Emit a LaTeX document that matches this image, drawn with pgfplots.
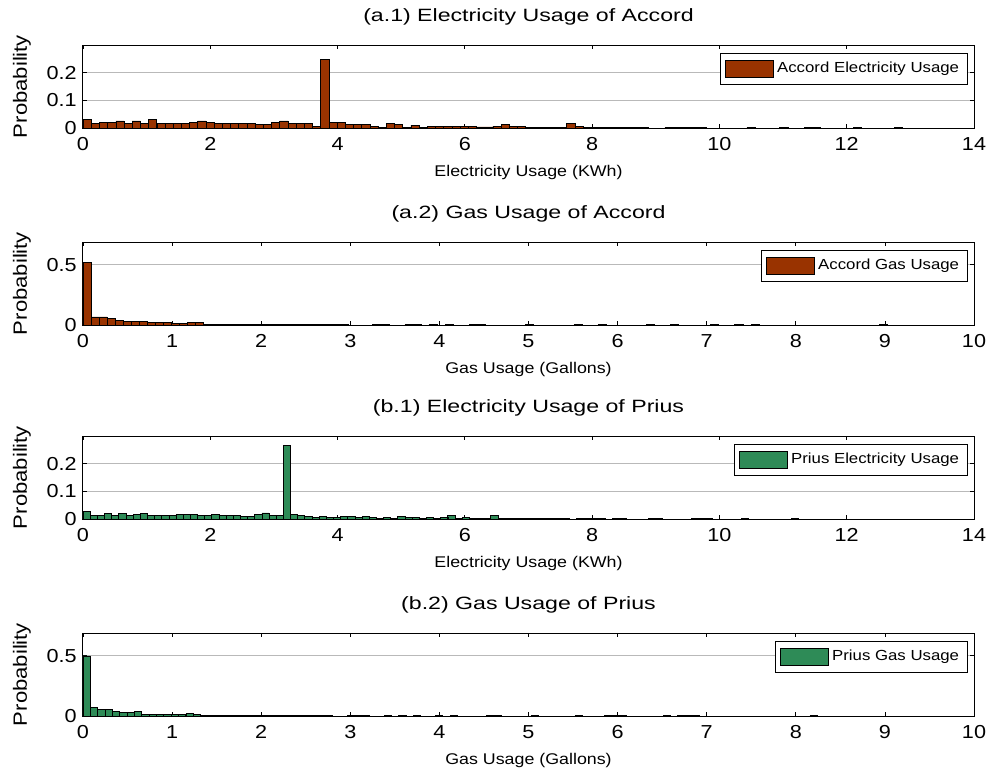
\documentclass[border=0pt]{standalone}
\usepackage{fontspec}
\setmainfont{Liberation Sans}[FakeStretch=1.15]
\newfontfamily\titlefont{Liberation Sans}[FakeStretch=1.3]
\usepackage{pgfplots}
\pgfplotsset{compat=1.18}
\definecolor{accord}{RGB}{153,51,0}
\definecolor{prius}{RGB}{46,139,87}
\pgfplotsset{
  matstyle/.style={
    scale only axis, width=445.5pt, height=41.5pt,
    anchor=north west, ymin=0, xmin=0,
    axis line style={black, line width=0.5pt},
    tick align=inside, major tick length=2pt,
    tick style={black, line width=0.4pt},
    ymajorgrids, major grid style={gray!55, line width=0.5pt},
    /pgf/number format/assume math mode=true,
    ticklabel style={font=\fontsize{9.4}{11}\selectfont},
    xticklabel style={anchor=base, yshift=-11.3pt},
    yticklabel style={anchor=east, inner sep=0pt, xshift=-3pt},
    title style={at={(0.5,1)}, anchor=base, yshift=5.6pt, font=\fontsize{8.9}{10}\selectfont\titlefont},
    xlabel style={at={(0.5,0)}, anchor=base, yshift=-24.3pt, font=\fontsize{7.75}{9}\selectfont},
    ylabel style={at={(axis description cs:-0.0685,0.5)}, anchor=center, font=\fontsize{9.6}{11}\selectfont},
    ylabel={Probability},
    legend style={at={(1,1)}, anchor=north east, xshift=-3.2pt, yshift=-4pt, draw=black, line width=0.5pt,
      font=\fontsize{7.3}{8.5}\selectfont, inner xsep=2pt, inner ysep=2.4pt,
      /tikz/every even column/.append style={column sep=2pt}},
    legend cell align=left,
    legend image code/.code={\draw[#1] (0pt,-4.25pt) rectangle (24pt,4.25pt);},
  },
  elec/.style={xmax=14, xtick={0,2,...,14}, ymax=0.3, ytick={0,0.1,0.2}, yticklabels={0,0.1,0.2}, xlabel={Electricity Usage (KWh)}},
  gas/.style={xmax=10, xtick={0,1,...,10}, ymax=0.69, ytick={0,0.5}, yticklabels={0,0.5}, xlabel={Gas Usage (Gallons)}},
}
\begin{document}
\begin{tikzpicture}
\useasboundingbox (0,0) rectangle (495.5pt,-386pt);
% (a.1)
\begin{axis}[matstyle, elec, at={(41.5pt,-22.5pt)}, title={(a.1) Electricity Usage of Accord}]
\addplot[ybar, bar width=0.1288, fill=accord, draw=black, line width=0.3pt] coordinates {
(0.064,0.031) (0.193,0.017) (0.322,0.021) (0.451,0.021) (0.580,0.026) (0.708,0.017) (0.837,0.026) (0.966,0.017)
(1.095,0.031) (1.224,0.017) (1.353,0.017) (1.481,0.017) (1.610,0.017) (1.739,0.021) (1.868,0.026) (1.996,0.021)
(2.125,0.017) (2.254,0.017) (2.383,0.017) (2.512,0.017) (2.640,0.017) (2.769,0.012) (2.898,0.012) (3.027,0.021)
(3.156,0.026) (3.284,0.017) (3.413,0.017) (3.542,0.017) (3.671,0.007) (3.800,0.249) (3.928,0.021) (4.057,0.021)
(4.186,0.012) (4.315,0.012) (4.444,0.012) (4.572,0.007) (4.701,0.003) (4.830,0.017) (4.959,0.012) (5.088,0.003)
(5.216,0.010) (5.345,0.003) (5.474,0.007) (5.603,0.007) (5.732,0.007) (5.860,0.007) (5.989,0.007) (6.118,0.007)
(6.247,0.004) (6.376,0.004) (6.504,0.007) (6.633,0.013) (6.762,0.007) (6.891,0.007) (7.020,0.002) (7.148,0.002)
(7.277,0.002) (7.406,0.002) (7.535,0.002) (7.664,0.017) (7.792,0.007) (7.921,0.002) (8.050,0.002) (8.179,0.002)
(8.308,0.002) (8.436,0.002) (8.565,0.002) (8.694,0.002) (8.823,0.002) (9.209,0.002) (9.338,0.002) (9.467,0.002)
(9.596,0.002) (9.724,0.002) (10.497,0.002) (11.012,0.002) (11.398,0.002) (11.527,0.002) (12.171,0.002) (12.815,0.002)
};
\addlegendentry{Accord Electricity Usage}
\end{axis}
% (a.2)
\begin{axis}[matstyle, gas, at={(41.5pt,-121pt)}, title={(a.2) Gas Usage of Accord}]
\addplot[ybar, bar width=0.0903, fill=accord, draw=black, line width=0.3pt] coordinates {
(0.045,0.519) (0.135,0.068) (0.226,0.068) (0.316,0.052) (0.406,0.041) (0.497,0.027) (0.587,0.027) (0.677,0.027)
(0.768,0.019) (0.858,0.019) (0.948,0.019) (1.039,0.011) (1.129,0.011) (1.219,0.022) (1.309,0.022) (1.400,0.008)
(1.490,0.007) (1.580,0.006) (1.671,0.006) (1.761,0.006) (1.851,0.006) (1.942,0.005) (2.032,0.005) (2.122,0.005)
(2.213,0.005) (2.303,0.005) (2.393,0.005) (2.483,0.004) (2.574,0.004) (2.664,0.004) (2.754,0.004) (2.845,0.004)
(2.935,0.004) (3.296,0.004) (3.387,0.004) (3.657,0.004) (3.748,0.004) (3.928,0.004) (4.109,0.004) (4.380,0.004)
(4.470,0.004) (5.012,0.004) (5.554,0.004) (5.825,0.004) (6.367,0.004) (6.638,0.004) (7.089,0.004) (7.360,0.004)
(7.541,0.004) (8.985,0.004)
};
\addlegendentry{Accord Gas Usage}
\end{axis}
% (b.1)
\begin{axis}[matstyle, elec, at={(41.5pt,-218pt)}, title={(b.1) Electricity Usage of Prius}]
\addplot[ybar, bar width=0.1124, fill=prius, draw=black, line width=0.3pt] coordinates {
(0.056,0.027) (0.169,0.013) (0.281,0.013) (0.393,0.020) (0.506,0.013) (0.618,0.020) (0.731,0.013) (0.843,0.017)
(0.955,0.020) (1.068,0.013) (1.180,0.013) (1.293,0.013) (1.405,0.013) (1.517,0.016) (1.630,0.016) (1.742,0.016)
(1.855,0.013) (1.967,0.013) (2.079,0.018) (2.192,0.013) (2.304,0.013) (2.417,0.013) (2.529,0.010) (2.641,0.010)
(2.754,0.017) (2.866,0.022) (2.978,0.013) (3.091,0.013) (3.203,0.265) (3.316,0.017) (3.428,0.013) (3.540,0.008)
(3.653,0.005) (3.765,0.008) (3.878,0.005) (3.990,0.005) (4.102,0.008) (4.215,0.008) (4.327,0.006) (4.440,0.008)
(4.552,0.005) (4.664,0.002) (4.777,0.005) (4.889,0.002) (5.002,0.008) (5.114,0.005) (5.226,0.005) (5.339,0.002)
(5.451,0.005) (5.564,0.002) (5.676,0.005) (5.788,0.012) (5.901,0.002) (6.013,0.005) (6.126,0.002) (6.238,0.001)
(6.350,0.001) (6.463,0.012) (6.575,0.002) (6.688,0.002) (6.800,0.002) (6.912,0.002) (7.025,0.002) (7.137,0.002)
(7.250,0.002) (7.362,0.002) (7.474,0.002) (7.587,0.002) (7.812,0.003) (7.924,0.003) (8.036,0.002) (8.149,0.002)
(8.374,0.002) (8.486,0.002) (8.936,0.002) (9.048,0.002) (9.610,0.002) (9.722,0.002) (9.835,0.002) (10.397,0.002)
(11.184,0.002)
};
\addlegendentry{Prius Electricity Usage}
\end{axis}
% (b.2)
\begin{axis}[matstyle, gas, at={(41.5pt,-316.5pt)}, title={(b.2) Gas Usage of Prius}]
\addplot[ybar, bar width=0.0824, fill=prius, draw=black, line width=0.3pt] coordinates {
(0.041,0.500) (0.124,0.074) (0.206,0.058) (0.288,0.058) (0.371,0.038) (0.453,0.027) (0.536,0.027) (0.618,0.038)
(0.700,0.016) (0.783,0.016) (0.865,0.016) (0.948,0.016) (1.030,0.016) (1.112,0.011) (1.195,0.019) (1.277,0.016)
(1.360,0.007) (1.442,0.007) (1.524,0.006) (1.607,0.006) (1.689,0.006) (1.772,0.006) (1.854,0.006) (1.936,0.005)
(2.019,0.005) (2.101,0.005) (2.184,0.005) (2.266,0.005) (2.348,0.005) (2.431,0.005) (2.513,0.005) (2.596,0.005)
(2.678,0.005) (2.760,0.005) (3.008,0.004) (3.090,0.004) (3.172,0.004) (3.420,0.004) (3.584,0.004) (3.749,0.004)
(3.996,0.004) (4.161,0.004) (4.573,0.004) (4.656,0.004) (5.068,0.004) (5.562,0.004) (5.892,0.004) (5.974,0.005)
(6.056,0.005) (6.551,0.004) (6.715,0.005) (6.798,0.005) (6.880,0.005) (8.199,0.004)
};
\addlegendentry{Prius Gas Usage}
\end{axis}
\end{tikzpicture}
\end{document}
